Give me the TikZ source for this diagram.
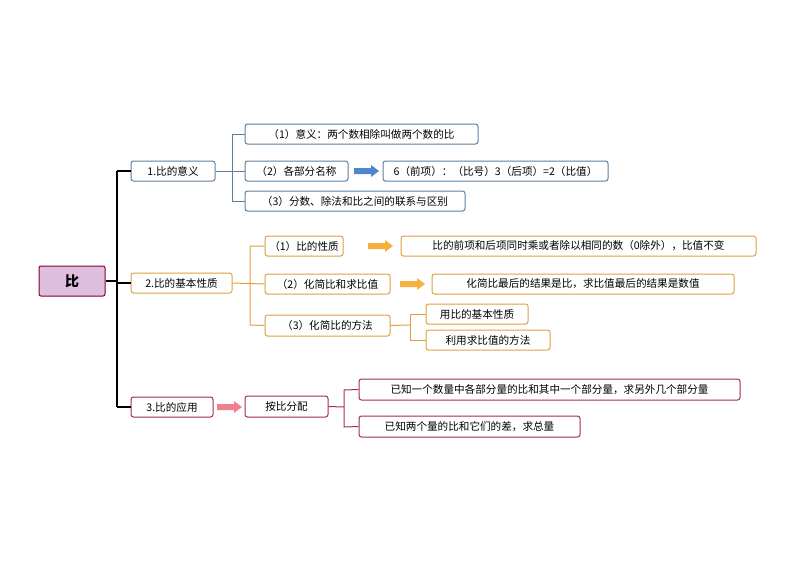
\documentclass[tikz,border=0pt]{standalone}
\usepackage{fontspec}
\setmainfont{Noto Sans CJK SC}
\definecolor{cb}{HTML}{5B7FA0}
\definecolor{co}{HTML}{E0A040}
\definecolor{cr}{HTML}{A03050}
\definecolor{ab}{HTML}{4F86D0}
\definecolor{ao}{HTML}{F5B040}
\definecolor{ap}{HTML}{F08090}
\tikzset{x=1pt,y=-1pt,
 bx/.style={draw=#1,rounded corners=2.5pt,line width=1pt,inner sep=0pt,fill=white},
 tx/.style={font=\fontsize{10.6}{12}\selectfont},
 br/.style={draw=#1,line width=1pt}}
\newcommand{\bxn}[6]{\node[bx=#1,minimum width=#4-#3,minimum height=#6-#5] (#2) at ({(#3+#4)/2},{(#5+#6)/2}) {};}
\newcommand{\fatarrow}[4]{\coordinate (#1) at (#2,#4); \fill[#3] (#2,#4-3) -- ++(17,0) -- ++(0,-3) -- ++(8,6) -- ++(-8,6) -- ++(0,-3) -- (#2,#4+3) -- cycle;}
\begin{document}
\begin{tikzpicture}
\useasboundingbox (0,0) rectangle (794,562);
% root
\node[draw=purple!70!black,fill=violet!25,rounded corners=2pt,line width=1pt,minimum width=66pt,minimum height=30pt,font=\bfseries\fontsize{14}{15}\selectfont] (root) at (72,281) {比};
\draw[line width=1.2pt] (root.east) -- (117,281) coordinate (t);
\coordinate (ta) at (117,171); \coordinate (tc) at (117,407);
\draw[line width=1.2pt] (ta) -- (tc);
% branch 1
\bxn{cb}{a}{131}{215}{161}{181} \node[tx] at (a) {1.比的意义};
\draw[line width=1.2pt] (ta) -- (a.west);
\bxn{cb}{a1}{245}{478}{124}{144} \node[tx] at (a1) {（1）意义：两个数相除叫做两个数的比};
\bxn{cb}{a2}{245}{348}{161}{181} \node[tx] at (a2) {（2）各部分名称};
\bxn{cb}{a2b}{383}{608}{161}{181} \node[tx] at (a2b) {6（前项）：（比号）3（后项）=2（比值）};
\bxn{cb}{a3}{245}{465}{191}{211} \node[tx] at (a3) {（3）分数、除法和比之间的联系与区别};
\draw[br=cb] (a.east) -- (a2.west);
\draw[br=cb] (a1.west) -- (232,134) -- (232,201) -- (a3.west);
\fatarrow{arr1}{354}{ab}{171}
% branch 2
\bxn{co}{b}{131}{232}{273}{293} \node[tx] at (b) {2.比的基本性质};
\draw[line width=1.2pt] (117,283) -- (b.west);
\bxn{co}{b1}{265}{343}{236}{256} \node[tx] at (b1) {（1）比的性质};
\bxn{co}{b1b}{401}{756}{236}{256} \node[tx] at (b1b) {比的前项和后项同时乘或者除以相同的数（0除外），比值不变};
\bxn{co}{b2}{265}{390}{274}{294} \node[tx] at (b2) {（2）化简比和求比值};
\bxn{co}{b2b}{432}{734}{274}{294} \node[tx] at (b2b) {化简比最后的结果是比，求比值最后的结果是数值};
\bxn{co}{b3}{265}{390}{315}{336} \node[tx] at (b3) {（3）化简比的方法};
\bxn{co}{b31}{426}{528}{304}{324} \node[tx] at (b31) {用比的基本性质};
\bxn{co}{b32}{426}{550}{330}{350} \node[tx] at (b32) {利用求比值的方法};
\draw[br=co] (b.east) -- (b2.west);
\draw[br=co] (b1.west) -- (250,246) -- (250,325) -- (b3.west);
\draw[br=co] (b3.east) -- (410,325);
\draw[br=co] (b31.west) -- (410,314) -- (410,340) -- (b32.west);
\fatarrow{arr2}{368}{ao}{246}
\fatarrow{arr3}{400}{ao}{284}
% branch 3
\bxn{cr}{c}{131}{213}{397}{417} \node[tx] at (c) {3.比的应用};
\draw[line width=1.2pt] (tc) -- (c.west);
\bxn{cr}{c1}{245}{328}{396}{417} \node[tx] at (c1) {按比分配};
\bxn{cr}{c11}{359}{740}{379}{400} \node[tx] at (c11) {已知一个数量中各部分量的比和其中一个部分量，求另外几个部分量};
\bxn{cr}{c12}{359}{580}{416}{437} \node[tx] at (c12) {已知两个量的比和它们的差，求总量};
\fatarrow{arr4}{217}{ap}{407}
\draw[br=cr] (c1.east) -- (344,407);
\draw[br=cr] (c11.west) -- (344,390) -- (344,427) -- (c12.west);
\end{tikzpicture}
\end{document}
